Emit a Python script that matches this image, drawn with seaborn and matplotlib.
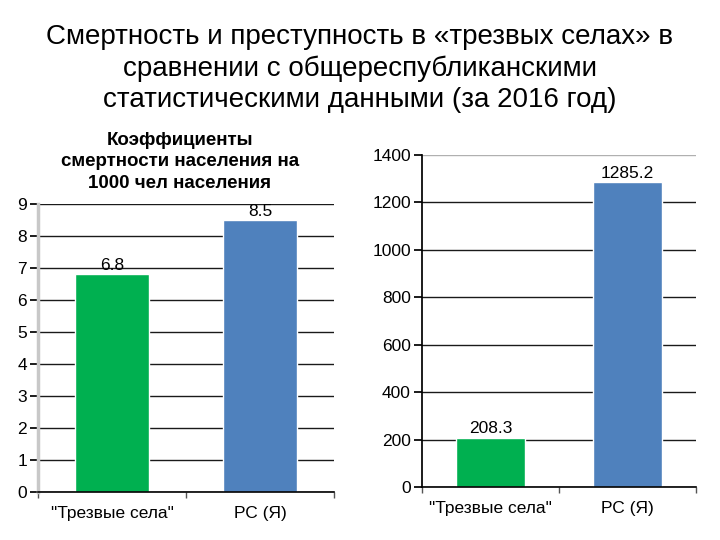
import matplotlib
matplotlib.use("Agg")
import matplotlib.pyplot as plt
import seaborn as sns
import pandas as pd

# ---------------- THEME & COLORS ----------------
sns.set_theme(style="white")
plt.rcParams["font.family"] = ["Liberation Sans", "DejaVu Sans"]

GREEN = "#00B050"
BLUE = "#4F81BD"
GRID = "#1a1a1a"

# ---------------- DATA ----------------
categories = ['"Трезвые села"', "РС (Я)"]
mortality = [6.8, 8.5]
crime = [208.3, 1285.2]

main_title = ("Смертность и преступность в «трезвых селах» в\n"
              "сравнении с общереспубликанскими\n"
              "статистическими данными (за 2016 год)")
left_title = "Коэффициенты\nсмертности населения на\n1000 чел населения"

df_mort = pd.DataFrame({"cat": categories, "val": mortality})
df_crime = pd.DataFrame({"cat": categories, "val": crime})
palette = {categories[0]: GREEN, categories[1]: BLUE}

fig = plt.figure(figsize=(7.2, 5.4), dpi=100)

fig.text(0.5, 0.873, main_title, ha="center", va="center", fontsize=20,
         linespacing=1.25, color="black")
fig.text(0.25, 0.70, left_title, ha="center", va="center", fontsize=13.5,
         fontweight="bold", linespacing=1.35, color="black")


def draw(ax, data, ymax, step, left_spine_color, grid_top_color):
    sns.barplot(data=data, x="cat", y="val", hue="cat", palette=palette,
                legend=False, width=0.5, saturation=1, ax=ax)
    ax.set_ylim(0, ymax)
    ax.set_xlim(-0.5, 1.5)
    ax.set_yticks(range(0, int(ymax) + 1, step))
    ax.set_xlabel("")
    ax.set_ylabel("")
    ax.set_axisbelow(True)
    ax.yaxis.grid(True, color=GRID, linewidth=1)
    ax.get_ygridlines()[-1].set_color(grid_top_color)
    for s in ["top", "right"]:
        ax.spines[s].set_visible(False)
    ax.spines["left"].set_color(left_spine_color)
    ax.spines["bottom"].set_color("black")
    ax.spines["bottom"].set_linewidth(1.2)
    ax.tick_params(axis="y", which="major", left=True, length=6, color="black",
                   labelsize=12.5, pad=2, labelcolor="black")
    ax.tick_params(axis="x", which="major", bottom=False, labelsize=12.5, pad=4,
                   labelcolor="black")
    ax.set_xticks([-0.5, 0.5, 1.5], minor=True)
    ax.tick_params(axis="x", which="minor", bottom=True, length=4, color="#555555")
    for c in ax.containers:
        ax.bar_label(c, fmt="%g", padding=1, fontsize=12.5, color="black")


ax1 = fig.add_axes([0.0528, 0.0889, 0.411, 0.5333])
draw(ax1, df_mort, 9, 1, "#c8c8c8", GRID)
ax1.spines["left"].set_linewidth(2.5)

ax2 = fig.add_axes([0.586, 0.0981, 0.3806, 0.6148])
draw(ax2, df_crime, 1400, 200, "black", "#b0b0b0")

fig.savefig("out.png", dpi=100)
